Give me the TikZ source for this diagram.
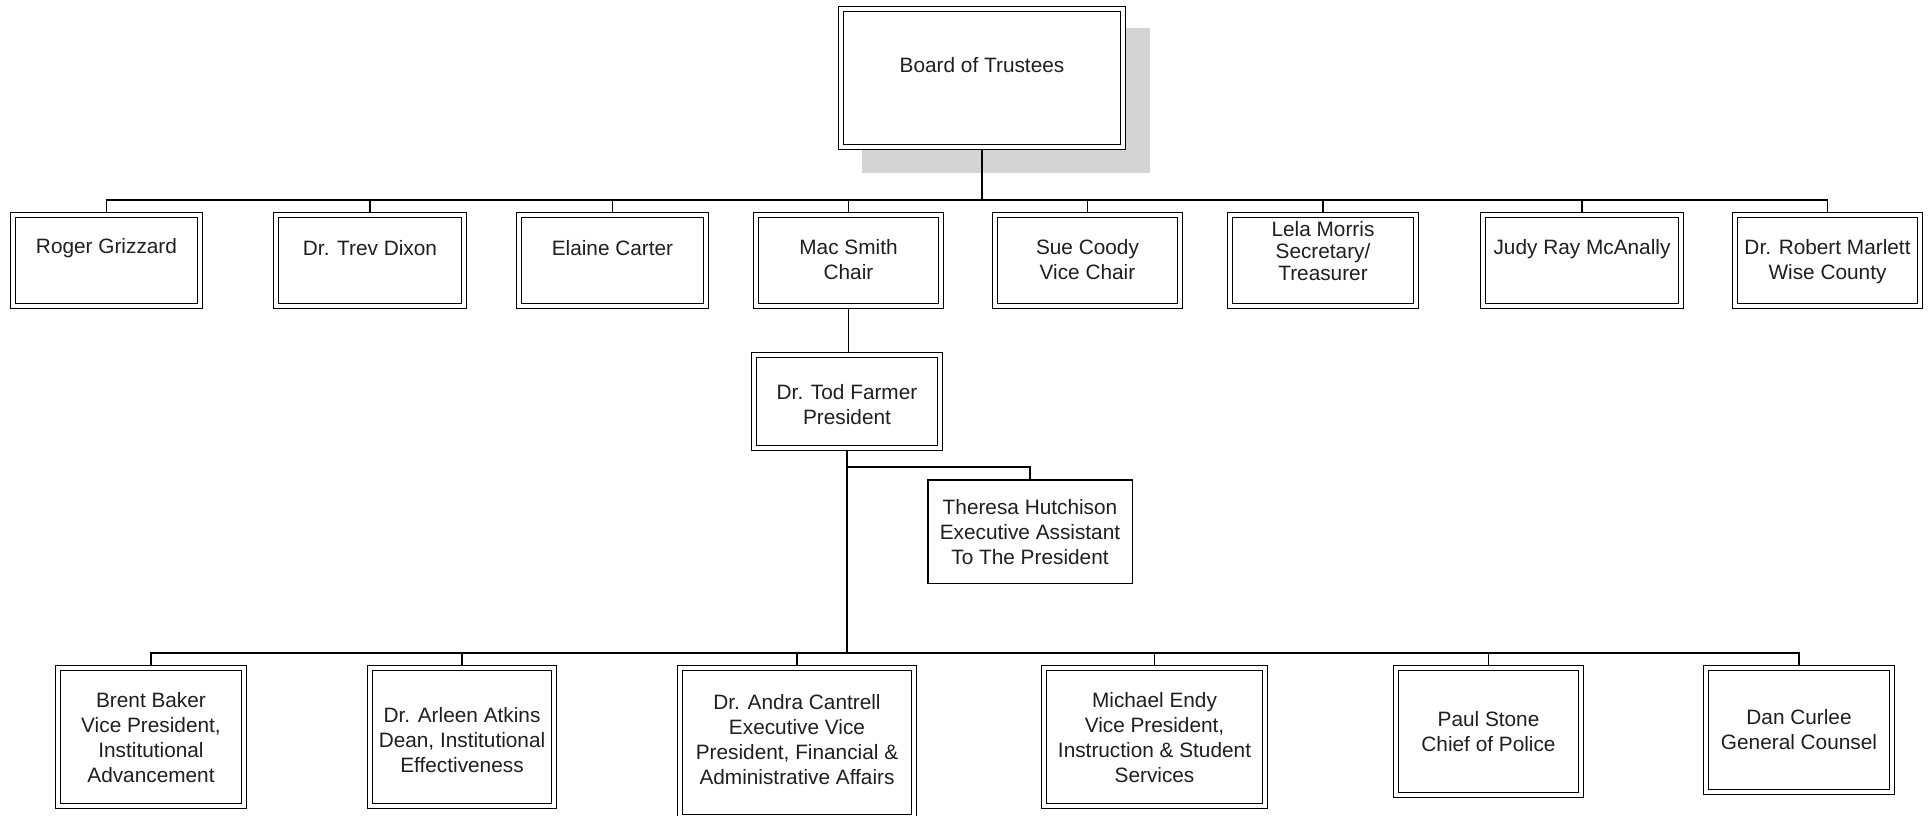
\documentclass[tikz,border=0pt]{standalone}
\usepackage{fontspec}
\setmainfont{Liberation Sans}
\usetikzlibrary{backgrounds}
\begin{document}
\begin{tikzpicture}[x=0.5pt,y=-0.5pt,
  dbox/.style={draw=black, line width=0.7pt, double=white, double distance=1.6pt, fill=white, inner sep=0pt},
  sbox/.style={draw=black, line width=0.75pt, fill=white, inner sep=0pt},
  sz/.style 2 args={minimum width=#1, minimum height=#2},
  txt/.style={font=\fontsize{10.4}{12.5}\selectfont, align=center, inner sep=0pt, text=black!88},
  link/.style={line width=0.75pt},
  thicklink/.style={line width=1.4pt}]
\useasboundingbox (0,0) rectangle (1931,815);

% Board
\node[dbox, sz={141pt}{69pt}] (board) at (982,78) {};
\node[txt] (boardT) at (982,65) {Board of Trustees};

% Top row
\node[dbox, sz={93.5pt}{45.5pt}] (roger)  at (106.5,260.5) {};
\node[dbox, sz={94pt}{45.5pt}]   (trev)   at (370,260.5) {};
\node[dbox, sz={93.5pt}{45.5pt}] (elaine) at (612.5,260.5) {};
\node[dbox, sz={92.5pt}{45.5pt}] (mac)    at (848.5,260.5) {};
\node[dbox, sz={92.5pt}{45.5pt}] (sue)    at (1087.5,260.5) {};
\node[dbox, sz={93pt}{45.5pt}]   (lela)   at (1323,260.5) {};
\node[dbox, sz={99pt}{45.5pt}]   (judy)   at (1582,260.5) {};
\node[dbox, sz={92.5pt}{45.5pt}] (robert) at (1827.5,260.5) {};

\node[txt] (rogerT)  at (106.5,248) {Roger Grizzard};
\node[txt] (trevT)   at (370,248) {Dr. Trev Dixon};
\node[txt] (elaineT) at (612.5,248) {Elaine Carter};
\node[txt] (macT)    at (848.5,259.5) {Mac Smith\\Chair};
\node[txt] (sueT)    at (1087.5,260) {Sue Coody\\Vice Chair};
\node[txt, font=\fontsize{10.4}{11}\selectfont] (lelaT) at (1323,251) {Lela Morris\\Secretary/\\Treasurer};
\node[txt] (judyT)   at (1582,249) {Judy Ray McAnally};
\node[txt] (robertT) at (1827.5,262) {Dr. Robert Marlett\\Wise County};

% President
\node[dbox, sz={93pt}{46.5pt}] (tod) at (847,401.5) {};
\node[txt] (todT) at (847,404.5) {Dr. Tod Farmer\\President};

\node[sbox, sz={102.25pt}{51.75pt}] (theresa) at (1030,531.5) {};
\node[txt] (theresaT) at (1030,532) {Theresa Hutchison\\Executive Assistant\\To The President};

% Bottom row
\node[dbox, sz={93pt}{69pt}]      (brent)   at (151,737) {};
\node[dbox, sz={92pt}{69pt}]      (arleen)  at (462,737) {};
\node[dbox, sz={117pt}{74.5pt}]   (andra)   at (797,742.5) {};
\node[dbox, sz={110.5pt}{69pt}]   (michael) at (1154.5,737) {};
\node[dbox, sz={92.5pt}{63.5pt}]  (paul)    at (1488.5,731.5) {};
\node[dbox, sz={93pt}{62pt}]      (dan)     at (1799,730) {};

\node[txt] (brentT)   at (151,738) {Brent Baker\\Vice President,\\Institutional\\Advancement};
\node[txt] (arleenT)  at (462,740) {Dr. Arleen Atkins\\Dean, Institutional\\Effectiveness};
\node[txt] (andraT)   at (797,740) {Dr. Andra Cantrell\\Executive Vice\\President, Financial \&\\Administrative Affairs};
\node[txt] (michaelT) at (1154.5,738) {Michael Endy\\Vice President,\\Instruction \& Student\\Services};
\node[txt] (paulT)    at (1488.5,732) {Paul Stone\\Chief of Police};
\node[txt] (danT)     at (1799,730) {Dan Curlee\\General Counsel};

\coordinate (topbus) at (0,200);
\coordinate (botbus) at (0,653);
\coordinate (thbr) at (0,467);
\coordinate (thickstart) at (868,653);

\begin{scope}[on background layer]
  \fill[black!17] (862,28) rectangle (1150,173);
  \draw[link] (board.south) -- (board.south |- topbus);
  \draw[link] (roger.north) -- (roger.north |- topbus) -- (robert.north |- topbus) -- (robert.north);
  \foreach \n in {trev,elaine,mac,sue,lela,judy}
    \draw[link] (\n.north) -- (\n.north |- topbus);
  \draw[link] (mac.south) -- (mac.south |- tod.north);
  \draw[link] (tod.south) -- (tod.south |- botbus);
  \draw[link] (tod.south |- thbr) -| (theresa.north);
  \draw[link] (brent.north) -- (brent.north |- botbus) -- (dan.north |- botbus) -- (dan.north);
  \draw[thicklink] (thickstart) -- (paul.north |- botbus);
  \foreach \n in {arleen,andra,michael,paul}
    \draw[link] (\n.north) -- (\n.north |- botbus);
\end{scope}
\end{tikzpicture}
\end{document}
